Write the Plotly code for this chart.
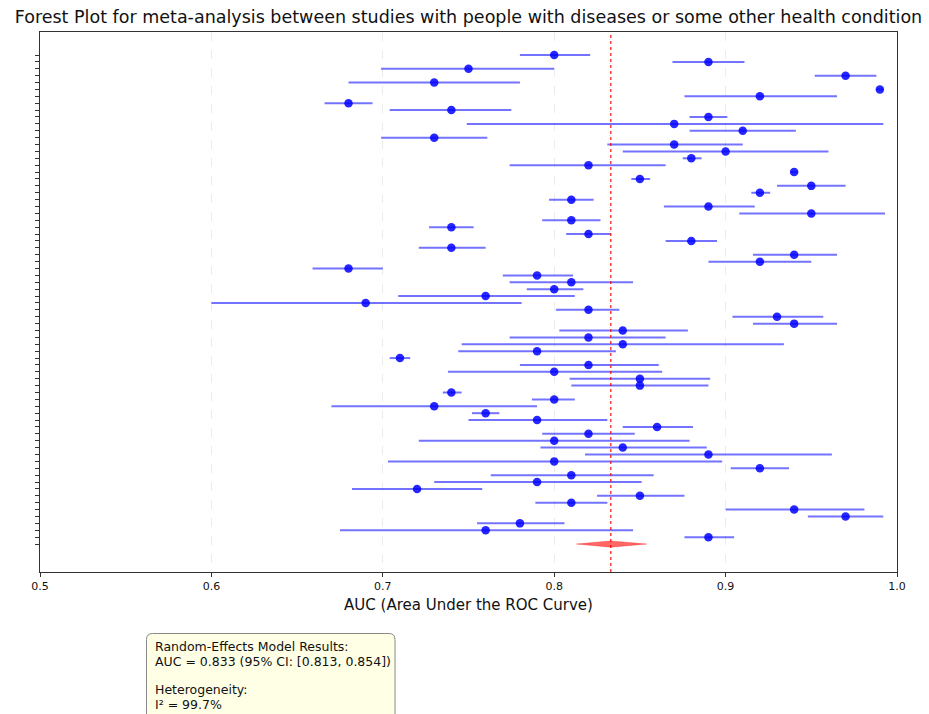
import plotly.graph_objects as go

# ---------------- data ----------------
study_ids = [f"Study {i+1}" for i in range(71)]

auc = [0.80, 0.89, 0.75, 0.97, 0.73, 0.99, 0.92, 0.68, 0.74, 0.89,
       0.87, 0.91, 0.73, 0.87, 0.90, 0.88, 0.82, 0.94, 0.85, 0.95,
       0.92, 0.81, 0.89, 0.95, 0.81, 0.74, 0.82, 0.88, 0.74, 0.94,
       0.92, 0.68, 0.79, 0.81, 0.80, 0.76, 0.69, 0.82, 0.93, 0.94,
       0.84, 0.82, 0.84, 0.79, 0.71, 0.82, 0.80, 0.85, 0.85, 0.74,
       0.80, 0.73, 0.76, 0.79, 0.86, 0.82, 0.80, 0.84, 0.89, 0.80,
       0.92, 0.81, 0.79, 0.72, 0.85, 0.81, 0.94, 0.97, 0.78, 0.76,
       0.89]

ci_lower = [0.780, 0.869, 0.699, 0.952, 0.680, 0.988, 0.876, 0.666, 0.704, 0.879,
            0.749, 0.879, 0.699, 0.831, 0.840, 0.875, 0.774, 0.938, 0.845, 0.930,
            0.915, 0.797, 0.864, 0.908, 0.793, 0.727, 0.807, 0.865, 0.721, 0.916,
            0.890, 0.659, 0.770, 0.774, 0.784, 0.709, 0.600, 0.801, 0.904, 0.916,
            0.803, 0.774, 0.746, 0.744, 0.704, 0.780, 0.738, 0.809, 0.810, 0.735,
            0.787, 0.670, 0.752, 0.750, 0.840, 0.793, 0.721, 0.792, 0.818, 0.703,
            0.903, 0.763, 0.730, 0.682, 0.825, 0.789, 0.900, 0.948, 0.755, 0.675,
            0.876]

ci_upper = [0.821, 0.911, 0.800, 0.988, 0.780, 0.992, 0.965, 0.694, 0.775, 0.901,
            0.992, 0.941, 0.761, 0.910, 0.960, 0.886, 0.865, 0.942, 0.856, 0.970,
            0.926, 0.823, 0.917, 0.993, 0.827, 0.753, 0.833, 0.895, 0.760, 0.965,
            0.950, 0.700, 0.811, 0.846, 0.817, 0.812, 0.781, 0.838, 0.957, 0.965,
            0.878, 0.865, 0.934, 0.836, 0.716, 0.861, 0.863, 0.891, 0.890, 0.746,
            0.812, 0.790, 0.768, 0.831, 0.881, 0.847, 0.879, 0.889, 0.962, 0.898,
            0.937, 0.858, 0.851, 0.758, 0.876, 0.831, 0.981, 0.992, 0.806, 0.846,
            0.905]

pooled_auc = 0.833
pooled_lower = 0.813
pooled_upper = 0.854
i_squared = 99.7

x_ticks = [0.5, 0.6, 0.7, 0.8, 0.9, 1.0]
x_tick_labels = ["0.5", "0.6", "0.7", "0.8", "0.9", "1.0"]

# ---------------- figure ----------------
n = len(auc)
ypos = [n - i for i in range(n)]          # top study at n, pooled at 0
err_plus = [u - a for a, u in zip(auc, ci_upper)]
err_minus = [a - l for a, l in zip(auc, ci_lower)]

FONT = "DejaVu Sans"
fig = go.Figure()

fig.add_trace(go.Scatter(
    x=auc, y=ypos, mode="markers", text=study_ids,
    marker=dict(color="rgba(0,0,255,0.85)", size=8.5, line=dict(width=0)),
    error_x=dict(type="data", symmetric=False, array=err_plus, arrayminus=err_minus,
                 color="rgba(0,0,255,0.55)", thickness=2, width=0),
    showlegend=False, hoverinfo="x+text"))

dh = 0.45
fig.add_trace(go.Scatter(
    x=[pooled_lower, pooled_auc, pooled_upper, pooled_auc, pooled_lower],
    y=[0, dh, 0, -dh, 0], mode="lines", fill="toself",
    fillcolor="rgba(255,0,0,0.6)", line=dict(color="rgba(255,0,0,0.6)", width=0.5),
    showlegend=False, hoverinfo="skip"))

fig.add_shape(type="line", xref="x", yref="paper", x0=pooled_auc, x1=pooled_auc,
              y0=0, y1=1, line=dict(color="rgba(255,0,0,0.75)", width=1.5, dash="dot"))

# layout geometry (pixels)
W, H = 929, 714
L, R, T, B = 40, 32, 32, 142
pw, ph = W - L - R, H - T - B

def px_x(p):
    return (p - L) / pw

def px_y(p):
    return (H - B - p) / ph

# text box (rounded rectangle)
bx0, bx1, by0, by1 = px_x(146.5), px_x(395), px_y(633.5), px_y(760)
rx, ry = 6 / pw, 6 / ph
path = (f"M {bx0+rx},{by0} L {bx1-rx},{by0} Q {bx1},{by0} {bx1},{by0-ry} "
        f"L {bx1},{by1+ry} Q {bx1},{by1} {bx1-rx},{by1} L {bx0+rx},{by1} "
        f"Q {bx0},{by1} {bx0},{by1+ry} L {bx0},{by0-ry} Q {bx0},{by0} {bx0+rx},{by0} Z")
fig.add_shape(type="path", xref="paper", yref="paper", path=path,
              fillcolor="#FFFFE6", line=dict(color="#8a8a8a", width=1), layer="above")

box_lines = [
    ("Random-Effects Model Results:", 646),
    (f"AUC = {pooled_auc:.3f} (95% CI: [{pooled_lower:.3f}, {pooled_upper:.3f}])", 661),
    ("Heterogeneity:", 689),
    (f"I² = {i_squared:.1f}%", 704),
]
for txt, yy in box_lines:
    fig.add_annotation(text=txt, xref="paper", yref="paper", x=px_x(153), y=px_y(yy),
                       xanchor="left", yanchor="middle", showarrow=False,
                       font=dict(family=FONT, size=12.5, color="#111"))

fig.update_layout(
    width=W, height=H, autosize=False,
    margin=dict(l=L, r=R, t=T, b=B),
    paper_bgcolor="white", plot_bgcolor="white",
    font=dict(family=FONT, color="#111"),
    title=dict(text="Forest Plot for meta-analysis between studies with people with diseases or some other health condition",
               x=0.5, xref="paper", xanchor="center", y=1 - 17 / H, yref="container",
               yanchor="middle", font=dict(family=FONT, size=17.5, color="#111")),
    xaxis=dict(range=[0.5, 1.0], tickvals=x_ticks, ticktext=x_tick_labels,
               ticks="outside", ticklen=4, tickwidth=1, tickcolor="#333",
               showline=True, mirror=True, linecolor="#333", linewidth=1,
               showgrid=True, gridcolor="#ececec", griddash="dash", gridwidth=1,
               zeroline=False, tickfont=dict(family=FONT, size=11, color="#111"),
               title=dict(text="AUC (Area Under the ROC Curve)", standoff=7,
                          font=dict(family=FONT, size=15, color="#111"))),
    yaxis=dict(range=[-4.06, 74.34], tickvals=ypos + [0], ticktext=[""] * (n + 1),
               ticks="outside", ticklen=4, tickwidth=1, tickcolor="#333",
               showline=True, mirror=True, linecolor="#333", linewidth=1,
               showgrid=False, zeroline=False, showticklabels=True),
)

fig.write_html("out.html")
